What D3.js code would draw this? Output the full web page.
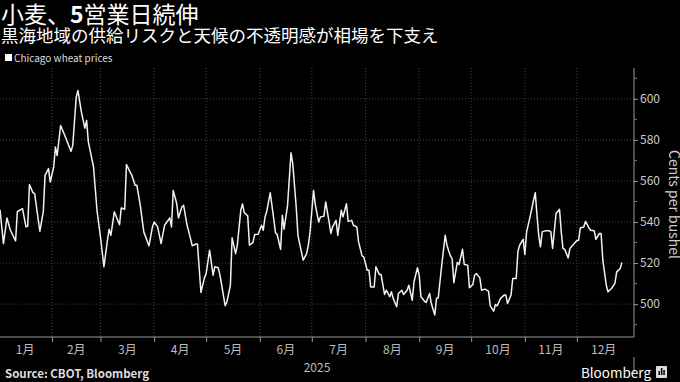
<!DOCTYPE html>
<html>
<head>
<meta charset="utf-8">
<script src="https://cdn.jsdelivr.net/npm/d3@7"></script>
<style>
  body { margin: 0; background: #000; }
  svg { display: block; }
  text { font-family: "Noto Sans CJK JP", "Noto Sans", sans-serif; }
</style>
</head>
<body>
<div id="chart"></div>
<script>
let W = 680, H = 382;

// ----- data -----
let titleParts = ["小麦、", "5", "営業日続伸"];
let subtitleText = "黒海地域の供給リスクと天候の不透明感が相場を下支え";
let seriesName = "Chicago wheat prices";
let axisTitle = "Cents per bushel";
let sourceText = "Source: CBOT, Bloomberg";
let yearLabel = "2025";

let monthLabels = ["1月","2月","3月","4月","5月","6月","7月","8月","9月","10月","11月","12月"];
let yTicks = [500, 520, 540, 560, 580, 600];

let dates = [
  "2025-01-02","2025-01-04","2025-01-06","2025-01-08","2025-01-11","2025-01-12","2025-01-15","2025-01-17",
  "2025-01-18","2025-01-19","2025-01-21","2025-01-22","2025-01-25","2025-01-27","2025-01-28","2025-01-30",
  "2025-01-31","2025-02-02","2025-02-03","2025-02-04","2025-02-06","2025-02-08","2025-02-12","2025-02-13",
  "2025-02-15","2025-02-16","2025-02-18","2025-02-20","2025-02-21","2025-02-22","2025-02-25","2025-02-27",
  "2025-03-01","2025-03-03","2025-03-05","2025-03-06","2025-03-07","2025-03-09","2025-03-12","2025-03-13",
  "2025-03-15","2025-03-16","2025-03-18","2025-03-19","2025-03-21","2025-03-22","2025-03-24","2025-03-26",
  "2025-03-29","2025-03-31","2025-04-01","2025-04-03","2025-04-05","2025-04-07","2025-04-10","2025-04-11",
  "2025-04-12","2025-04-14","2025-04-15","2025-04-17","2025-04-18","2025-04-20","2025-04-21","2025-04-23",
  "2025-04-25","2025-04-26","2025-04-28","2025-04-30","2025-05-01","2025-05-03","2025-05-05","2025-05-06",
  "2025-05-08","2025-05-09","2025-05-12","2025-05-13","2025-05-15","2025-05-16","2025-05-18","2025-05-19",
  "2025-05-21","2025-05-22","2025-05-23","2025-05-25","2025-05-26","2025-05-28","2025-05-29","2025-05-31",
  "2025-06-02","2025-06-03","2025-06-04","2025-06-05","2025-06-07","2025-06-09","2025-06-10","2025-06-11",
  "2025-06-13","2025-06-14","2025-06-15","2025-06-17","2025-06-19","2025-06-20","2025-06-22","2025-06-23",
  "2025-06-26","2025-06-28","2025-06-29","2025-06-30","2025-07-02","2025-07-03","2025-07-05","2025-07-06",
  "2025-07-08","2025-07-09","2025-07-11","2025-07-12","2025-07-13","2025-07-15","2025-07-16","2025-07-18",
  "2025-07-19","2025-07-21","2025-07-22","2025-07-24","2025-07-25","2025-07-27","2025-07-28","2025-07-30",
  "2025-07-31","2025-08-02","2025-08-03","2025-08-04","2025-08-06","2025-08-07","2025-08-09","2025-08-10",
  "2025-08-12","2025-08-13","2025-08-15","2025-08-16","2025-08-17","2025-08-19","2025-08-20","2025-08-22",
  "2025-08-23","2025-08-25","2025-08-26","2025-08-28","2025-08-29","2025-08-31","2025-09-01","2025-09-02",
  "2025-09-04","2025-09-05","2025-09-07","2025-09-08","2025-09-10","2025-09-11","2025-09-12","2025-09-14",
  "2025-09-16","2025-09-17","2025-09-19","2025-09-20","2025-09-21","2025-09-23","2025-09-24","2025-09-26",
  "2025-09-27","2025-09-29","2025-09-30","2025-10-02","2025-10-03","2025-10-04","2025-10-06","2025-10-07",
  "2025-10-09","2025-10-11","2025-10-12","2025-10-14","2025-10-15","2025-10-16","2025-10-18","2025-10-20",
  "2025-10-21","2025-10-22","2025-10-24","2025-10-25","2025-10-27","2025-10-28","2025-10-29","2025-10-31",
  "2025-11-01","2025-11-02","2025-11-04","2025-11-06","2025-11-07","2025-11-08","2025-11-09","2025-11-10",
  "2025-11-11","2025-11-13","2025-11-15","2025-11-16","2025-11-17","2025-11-19","2025-11-21","2025-11-22",
  "2025-11-23","2025-11-24","2025-11-26","2025-11-27","2025-11-29","2025-12-01","2025-12-02","2025-12-03",
  "2025-12-05","2025-12-06","2025-12-08","2025-12-09","2025-12-11","2025-12-12","2025-12-14","2025-12-15",
  "2025-12-16","2025-12-18","2025-12-19","2025-12-21","2025-12-23","2025-12-24","2025-12-26","2025-12-27"
];

let prices = [
  546, 529.5, 542, 536, 530.8, 545, 546.5, 537.6,
  538, 558.3, 554.3, 553.8, 535.5, 545, 562.7, 566,
  559.5, 566.8, 576.5, 572.4, 587, 583, 574.4, 577.3,
  600.8, 604, 593.5, 585.7, 589.5, 579, 566.8, 545.7,
  532.7, 518.2, 531, 536.5, 533.5, 545, 538.7, 546.8,
  546.2, 568, 564.5, 563, 557.9, 557.9, 548.1, 535.2,
  528.4, 537.6, 540, 537.6, 529.5, 538.4, 542, 537.6,
  555.4, 549, 542, 547.3, 548.1, 538.4, 535.2, 528.4,
  529.3, 529.3, 505.7, 512.8, 514.9, 526.3, 514.1, 518.2,
  517.7, 514.1, 499.2, 501.1, 509.2, 532.3, 524.6, 528.7,
  545.7, 548.8, 544.6, 543, 528.7, 530, 533.9, 534,
  538.4, 536, 542.5, 545.2, 554.3, 541.7, 534.8, 533.9,
  526.7, 543.3, 536.5, 548.1, 573.7, 568.4, 547.3, 533.5,
  521.4, 524.6, 528.7, 535.2, 555.4, 548.5, 540, 542.5,
  542.8, 549.8, 540, 534.4, 537.6, 540.8, 533.5, 545.7,
  542.5, 548.9, 540.3, 540.8, 538.4, 537.6, 530.3, 523.5,
  523, 516.5, 516.5, 508.4, 508.4, 518.2, 514.4, 514.4,
  504.7, 506.8, 503.6, 506, 502.8, 498.7, 505.2, 506.8,
  504.7, 506.8, 509.2, 501.9, 510.9, 517.7, 514.1, 503.6,
  501.5, 500.8, 505.2, 500.3, 494.7, 502.8, 503.1, 519,
  533.5, 528.7, 523.5, 522.2, 510.5, 520.3, 519.3, 526.7,
  519.3, 519, 508, 509.6, 514.1, 514.9, 512.8, 506.8,
  507.3, 506.3, 499.2, 496.6, 499.8, 499.2, 502.8, 504.4,
  504.4, 500.3, 504.4, 512.5, 512.5, 525.8, 528.7, 531.6,
  524.2, 535.2, 542.5, 550.6, 554.3, 543.3, 533.5, 527.9,
  535.2, 535.8, 535.8, 535.2, 527.1, 544.1, 546.2, 535.2,
  527.1, 526.7, 522.5, 527.1, 529, 531, 531, 537.1,
  537.6, 540.3, 537.1, 536, 535.8, 531.6, 534.4, 534.4,
  521.4, 509.2, 506, 507.6, 510.1, 515.7, 517.3, 520.3
];

let parseDate = d3.timeParse("%Y-%m-%d");
let data = dates.map(function(d, i){
  return { date: parseDate(d), value: prices[i] };
});

// ----- layout -----
let plotLeft = 0, plotRight = 634, plotTop = 68, plotBottom = 337;

let svg = d3.select("#chart").append("svg")
  .attr("width", W)
  .attr("height", H);

svg.append("rect").attr("width", W).attr("height", H).attr("fill", "#000");

let x = d3.scaleTime()
  .domain([new Date(2025, 0, 2), new Date(2026, 0, 3)])
  .range([plotLeft, plotRight]);

let y = d3.scaleLinear()
  .domain([484, 615])
  .range([plotBottom, plotTop]);

// titles
let title = svg.append("text")
  .attr("x", 1).attr("y", 23)
  .attr("fill", "#fff")
  .attr("font-size", "23px");
title.selectAll("tspan")
  .data(titleParts)
  .enter()
  .append("tspan")
    .attr("font-weight", function(d, i){ return i == 1 ? "bold" : "normal"; })
    .text(function(d){ return d; });

svg.append("text")
  .attr("x", 1).attr("y", 41.5)
  .attr("fill", "#fff")
  .attr("font-size", "17.5px")
  .text(subtitleText);

// legend
svg.append("rect")
  .attr("x", 5).attr("y", 54)
  .attr("width", 7).attr("height", 7)
  .attr("fill", "#fff");
svg.append("text")
  .attr("x", 14).attr("y", 61.5)
  .attr("fill", "#ddd")
  .attr("font-size", "10px")
  .attr("font-family", "'Open Sans', sans-serif")
  .text(seriesName);

// grid
let monthStarts = d3.timeMonth.range(new Date(2025, 1, 1), new Date(2025, 11, 2));

let grid = svg.append("g");
grid.selectAll(".hgrid")
  .data(yTicks)
  .enter()
  .append("line")
    .attr("x1", plotLeft).attr("x2", plotRight)
    .attr("y1", function(d){ return y(d); })
    .attr("y2", function(d){ return y(d); })
    .attr("stroke", "#444")
    .attr("stroke-dasharray", "1,2");

grid.selectAll(".vgrid")
  .data(monthStarts)
  .enter()
  .append("line")
    .attr("x1", function(d){ return x(d); })
    .attr("x2", function(d){ return x(d); })
    .attr("y1", plotTop).attr("y2", plotBottom)
    .attr("stroke", "#444")
    .attr("stroke-dasharray", "1,2");

// right axis
let yAxis = d3.axisRight(y)
  .tickValues(yTicks)
  .tickSize(4)
  .tickPadding(2);

let yAxisGroup = svg.append("g")
  .attr("transform", "translate(" + plotRight + ",0)")
  .call(yAxis);

yAxisGroup.select(".domain").remove();
yAxisGroup.selectAll("line").attr("stroke", "#999");
yAxisGroup.selectAll("text")
  .attr("fill", "#ccc")
  .attr("font-size", "12px")
  .attr("font-family", "'Open Sans', sans-serif");

let minorTicks = d3.range(490, 615, 10).filter(function(d){ return yTicks.indexOf(d) < 0; });
svg.append("g").selectAll("line")
  .data(minorTicks)
  .enter()
  .append("line")
    .attr("x1", plotRight).attr("x2", plotRight + 3)
    .attr("y1", function(d){ return y(d); })
    .attr("y2", function(d){ return y(d); })
    .attr("stroke", "#777");

svg.append("line")
  .attr("x1", plotRight).attr("x2", plotRight)
  .attr("y1", plotTop).attr("y2", plotBottom)
  .attr("stroke", "#999");

svg.append("text")
  .attr("transform", "translate(669," + ((plotTop + plotBottom) / 2 + 2) + ") rotate(90)")
  .attr("text-anchor", "middle")
  .attr("fill", "#ccc")
  .attr("font-size", "14px")
  .attr("font-family", "'Open Sans', sans-serif")
  .text(axisTitle);

// bottom axis
let xAxis = d3.axisBottom(x)
  .tickValues(monthStarts)
  .tickSize(5)
  .tickFormat("");

let xAxisGroup = svg.append("g")
  .attr("transform", "translate(0," + plotBottom + ")")
  .call(xAxis);
xAxisGroup.select(".domain")
  .attr("stroke", "#999")
  .attr("d", "M" + plotLeft + ",0H" + plotRight);
xAxisGroup.selectAll("line").attr("stroke", "#999");

let allMonths = d3.timeMonth.range(new Date(2025, 0, 1), new Date(2026, 0, 1));
svg.append("g").selectAll("text")
  .data(allMonths)
  .enter()
  .append("text")
    .attr("x", function(d){
      return (x(d) + x(d3.timeMonth.offset(d, 1))) / 2;
    })
    .attr("y", 354)
    .attr("text-anchor", "middle")
    .attr("fill", "#bbb")
    .attr("font-size", "12px")
    .text(function(d, i){ return monthLabels[i]; });

svg.append("text")
  .attr("x", (plotLeft + plotRight) / 2)
  .attr("y", 372)
  .attr("text-anchor", "middle")
  .attr("fill", "#bbb")
  .attr("font-size", "12px")
  .attr("font-family", "'Open Sans', sans-serif")
  .text(yearLabel);

svg.append("line")
  .attr("x1", plotRight).attr("x2", plotRight)
  .attr("y1", 357).attr("y2", 374)
  .attr("stroke", "#999");

// line
let line = d3.line()
  .x(function(d){ return x(d.date); })
  .y(function(d){ return y(d.value); });

svg.append("path")
  .datum(data)
  .attr("d", line)
  .attr("fill", "none")
  .attr("stroke", "#f2f2f2")
  .attr("stroke-width", 1.5)
  .attr("stroke-linejoin", "round");

// footer
svg.append("text")
  .attr("x", 5).attr("y", 378)
  .attr("fill", "#ddd")
  .attr("font-size", "11.5px")
  .attr("font-weight", "bold")
  .attr("font-family", "'DejaVu Sans', sans-serif")
  .text(sourceText);

svg.append("text")
  .attr("x", 651).attr("y", 378)
  .attr("text-anchor", "end")
  .attr("fill", "#fff")
  .attr("font-size", "13.5px")
  .attr("font-family", "'Open Sans', sans-serif")
  .text("Bloomberg");

svg.append("rect")
  .attr("x", 656).attr("y", 366)
  .attr("width", 11).attr("height", 12)
  .attr("rx", 1)
  .attr("fill", "#ddd");
svg.append("g").selectAll("rect")
  .data([4, 7, 5])
  .enter()
  .append("rect")
    .attr("x", function(d, i){ return 658.5 + i * 2.4; })
    .attr("y", function(d){ return 375 - d; })
    .attr("width", 1.5)
    .attr("height", function(d){ return d; })
    .attr("fill", "#000");
</script>
</body>
</html>
